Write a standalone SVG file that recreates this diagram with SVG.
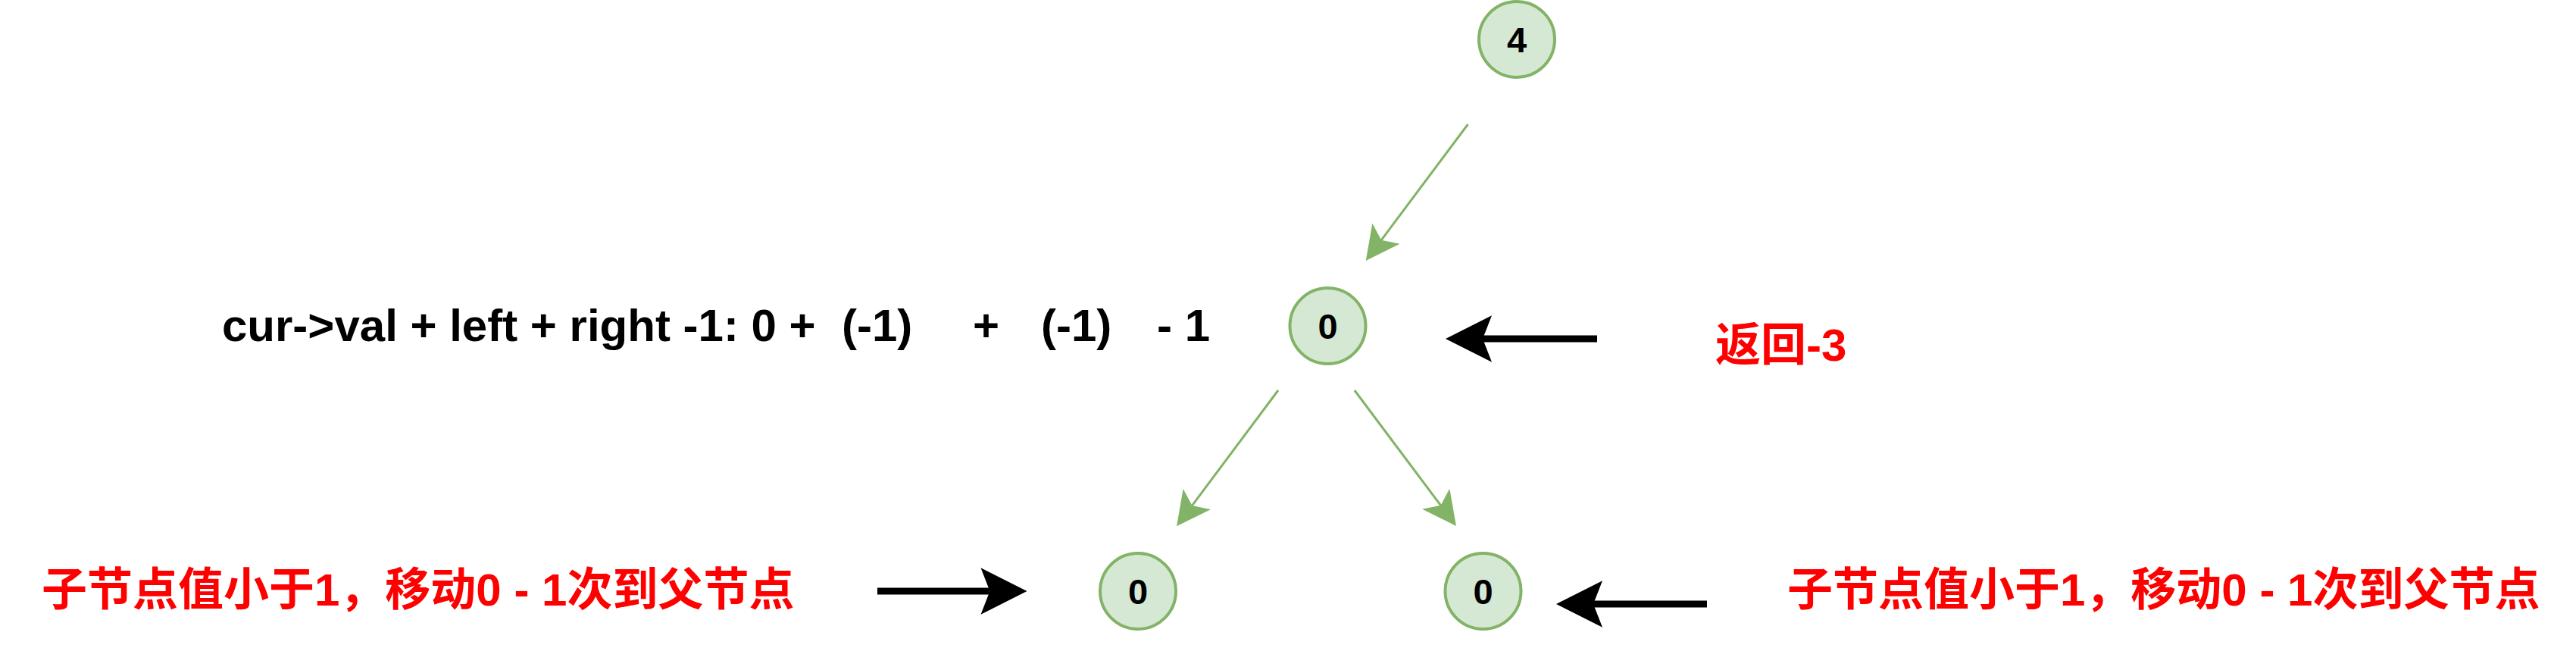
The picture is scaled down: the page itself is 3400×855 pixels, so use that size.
<svg xmlns="http://www.w3.org/2000/svg" width="3400" height="855" viewBox="0 0 3400 855">
  <style>
    .node ellipse { fill: #d5e8d4; stroke: #82b366; stroke-width: 4; }
    .node text { font-family: "Liberation Sans", Arial, sans-serif; font-weight: bold; font-size: 47px; fill: #000000; text-anchor: middle; }
    .edge { stroke: #82b366; stroke-width: 3; fill: none; marker-end: url(#greenArrow); }
    .pointer { stroke: #000000; stroke-width: 9; fill: none; marker-end: url(#blackArrow); }
    .formula { font-family: "Liberation Sans", Arial, sans-serif; font-weight: bold; font-size: 60px; fill: #000000; }
    .note { font-family: "Liberation Sans", Arial, "Noto Sans CJK SC", sans-serif; font-weight: bold; font-size: 60px; fill: #ff0000; }
  </style>
  <defs>
    <marker id="greenArrow" markerUnits="userSpaceOnUse" viewBox="-12 -24 48 48" refX="0" refY="0" markerWidth="48" markerHeight="48" orient="auto">
      <path d="M34,0 L-10.6,-22.6 L0,0 L-10.6,22.6 Z" fill="#82b366"/>
    </marker>
    <marker id="blackArrow" markerUnits="userSpaceOnUse" viewBox="-14 -32 64 64" refX="0" refY="0" markerWidth="64" markerHeight="64" orient="auto">
      <path d="M49,0 L-12,-30.7 L0,0 L-12,30.7 Z" fill="#000000"/>
    </marker>
  </defs>

  <g id="connectors">
    <line class="edge" x1="1937.5" y1="164" x2="1823.1" y2="316.8"/>
    <line class="edge" x1="1687" y1="515" x2="1573.4" y2="667.1"/>
    <line class="edge" x1="1787.8" y1="515" x2="1901.6" y2="666.8"/>
    <line class="pointer" x1="2108" y1="447" x2="1957" y2="447"/>
    <line class="pointer" x1="1158" y1="780" x2="1306.5" y2="780"/>
    <line class="pointer" x1="2253" y1="797" x2="2103" y2="797"/>
  </g>

  <g id="node-root" class="node">
    <ellipse cx="2002" cy="52" rx="50" ry="50"/>
    <text x="2002" y="69">4</text>
  </g>
  <g id="node-mid" class="node">
    <ellipse cx="1752.5" cy="430" rx="50" ry="50"/>
    <text x="1752.5" y="447">0</text>
  </g>
  <g id="node-left" class="node">
    <ellipse cx="1502" cy="780" rx="50" ry="50"/>
    <text x="1502" y="797">0</text>
  </g>
  <g id="node-right" class="node">
    <ellipse cx="1957.5" cy="780" rx="50" ry="50"/>
    <text x="1957.5" y="797">0</text>
  </g>

  <g id="label-formula">
    <text class="formula" y="450" xml:space="preserve"><tspan x="293">cur-&gt;val + left + right -1: 0 +  </tspan><tspan x="1111">(-1)    </tspan><tspan x="1284">+   </tspan><tspan x="1374">(-1)   </tspan><tspan x="1527">- 1</tspan></text>
  </g>
  <g id="label-return">
    <text class="note" x="2264" y="476">返回-3</text>
  </g>
  <g id="label-left">
    <text class="note" x="55" y="799">子节点值小于1，移动0 - 1次到父节点</text>
  </g>
  <g id="label-right">
    <text class="note" x="2359" y="799">子节点值小于1，移动0 - 1次到父节点</text>
  </g>
</svg>
